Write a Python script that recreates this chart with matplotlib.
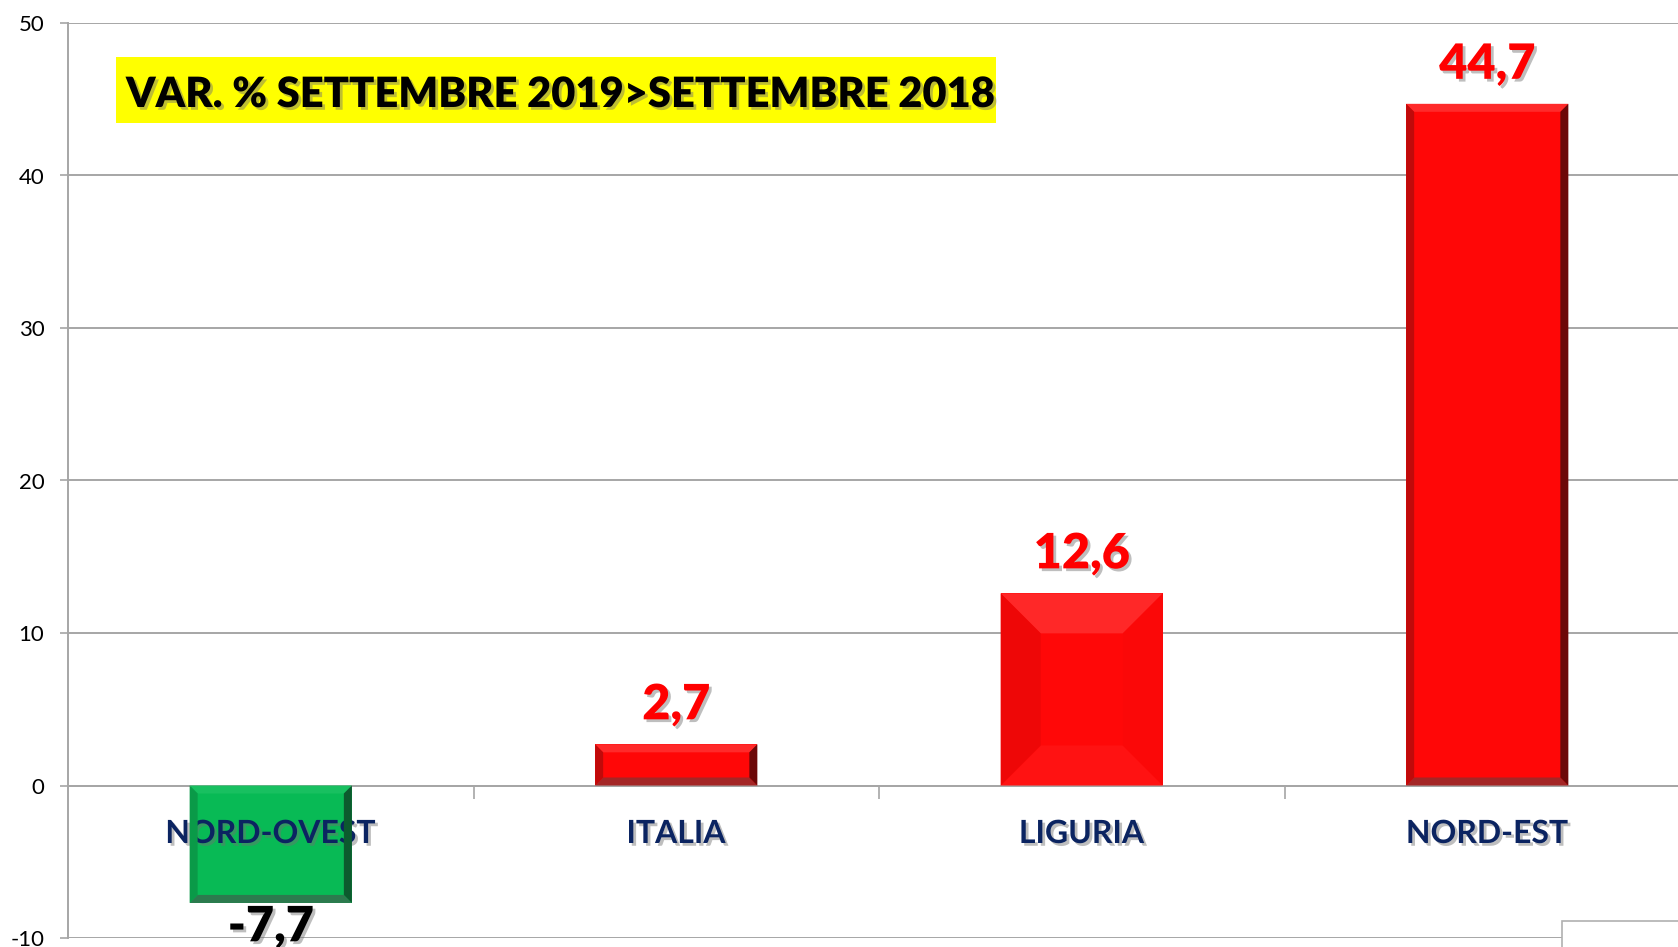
import matplotlib
matplotlib.use("Agg")
import matplotlib.pyplot as plt
import matplotlib.patheffects as pe
from matplotlib.patches import Polygon, Rectangle
from matplotlib.transforms import IdentityTransform

# ---- data ----
categories = ["NORD-OVEST", "ITALIA", "LIGURIA", "NORD-EST"]
values = [-7.7, 2.7, 12.6, 44.7]
value_labels = ["-7,7", "2,7", "12,6", "44,7"]
title = "VAR. % SETTEMBRE 2019>SETTEMBRE 2018"
yticks = [-10, 0, 10, 20, 30, 40, 50]

# ---- styles ----
W, H, DPI = 1678, 947, 100
face_colors = ["#08BA55", "#FF0707", "#FF0808", "#FF0707"]
# bevel colours: top, bottom, left, right
bevels = [
    ("#18C060", "#2C7A4E", "#0A9A48", "#0C5A2E"),
    ("#FF2A2A", "#A42626", "#C00A0A", "#6C0808"),
    ("#FF2828", "#FF1212", "#EE0707", "#FB0808"),
    ("#FF2A2A", "#A42626", "#C00A0A", "#6C0808"),
]
bevel_px = [8, 8, 40, 8]
label_colors = ["#000000", "#FF0000", "#FF0000", "#FF0000"]
grid_col = "#A6A6A6"
navy = "#0B2461"

plt.rcParams["font.family"] = ["Lato", "DejaVu Sans"]

fig = plt.figure(figsize=(W / DPI, H / DPI), dpi=DPI)
ax_left, ax_right = 68, 1690
ax_top, ax_bot = 23, 938
ax = fig.add_axes([ax_left / W, (H - ax_bot) / H,
                   (ax_right - ax_left) / W, (ax_bot - ax_top) / H])
ax.set_xlim(-0.5, len(categories) - 0.5)
ax.set_ylim(-10, 50)
ax.set_yticks(yticks)
ax.set_yticklabels([str(t) for t in yticks])
ax.yaxis.grid(True, color=grid_col, linewidth=1.4, zorder=0)
ax.set_axisbelow(True)
for s in ["top", "right"]:
    ax.spines[s].set_visible(False)
ax.spines["left"].set_color(grid_col)
ax.spines["left"].set_linewidth(1.4)
ax.spines["bottom"].set_position(("data", 0))
ax.spines["bottom"].set_color(grid_col)
ax.spines["bottom"].set_linewidth(1.4)
ax.tick_params(axis="y", length=6, width=1.2, color=grid_col, pad=11,
               labelsize=16, labelcolor="#000000")
ax.set_xticks(range(len(categories)))
ax.set_xticklabels([])
ax.tick_params(axis="x", which="major", length=0)
ax.set_xticks([i + 0.5 for i in range(len(categories) - 1)], minor=True)
ax.tick_params(axis="x", which="minor", length=9, width=1.2, color=grid_col,
               direction="out")

bars = ax.bar(range(len(categories)), values, width=0.4,
              color=face_colors, zorder=2, linewidth=0)

# bevels derived from bar geometry
fig.canvas.draw()
for i, b in enumerate(bars):
    x0d, y0d = b.get_x(), b.get_y()
    x1d, y1d = x0d + b.get_width(), y0d + b.get_height()
    (x0, ya), (x1, yb) = ax.transData.transform([(x0d, y0d), (x1d, y1d)])
    y0, y1 = min(ya, yb), max(ya, yb)
    bp = min(bevel_px[i], (y1 - y0) / 2, (x1 - x0) / 2)
    top, bot, lef, rig = bevels[i]
    polys = [
        ([(x0, y1), (x1, y1), (x1 - bp, y1 - bp), (x0 + bp, y1 - bp)], top),
        ([(x0, y0), (x1, y0), (x1 - bp, y0 + bp), (x0 + bp, y0 + bp)], bot),
        ([(x0, y0), (x0, y1), (x0 + bp, y1 - bp), (x0 + bp, y0 + bp)], lef),
        ([(x1, y0), (x1, y1), (x1 - bp, y1 - bp), (x1 - bp, y0 + bp)], rig),
    ]
    for pts, c in polys:
        fig.add_artist(Polygon(pts, closed=True, facecolor=c, edgecolor="none",
                               transform=IdentityTransform(), zorder=3))

shadow = [pe.SimplePatchShadow(offset=(2, -2), shadow_rgbFace="#707070", alpha=0.45),
          pe.Normal()]

# value labels
for i, (v, lab) in enumerate(zip(values, value_labels)):
    if v >= 0:
        ax.annotate(lab, (i, v), xytext=(0, 18), textcoords="offset points",
                    ha="center", va="baseline", fontsize=35, fontweight="heavy",
                    color=label_colors[i], path_effects=shadow, zorder=6,
                    annotation_clip=False)
    else:
        ax.annotate(lab, (i, v), xytext=(0, -1), textcoords="offset points",
                    ha="center", va="top", fontsize=35, fontweight="heavy",
                    color=label_colors[i], path_effects=shadow, zorder=6,
                    annotation_clip=False)

# category labels
for i, c in enumerate(categories):
    ax.annotate(c, (i, 0), xytext=(0, -48 * 0.72), textcoords="offset points",
                ha="center", va="center", fontsize=23, fontweight="bold",
                color=navy, path_effects=shadow, zorder=6, annotation_clip=False)

# title box
fig.add_artist(Rectangle((116 / W, (H - 123) / H), (996 - 116) / W, 66 / H,
                         transform=fig.transFigure, facecolor="#FFFF00",
                         edgecolor="none", zorder=5))
fig.text(126 / W, (H - 107) / H, title, ha="left", va="baseline",
         fontsize=30, fontweight="heavy", color="black",
         path_effects=shadow, zorder=6)

# small box bottom-right
fig.add_artist(Rectangle((1562 / W, -10 / H), 200 / W, (H - 921 + 10) / H,
                         transform=fig.transFigure, facecolor="white",
                         edgecolor="#B0B0B0", linewidth=1.2, zorder=7))

fig.savefig("out.png", dpi=DPI)
